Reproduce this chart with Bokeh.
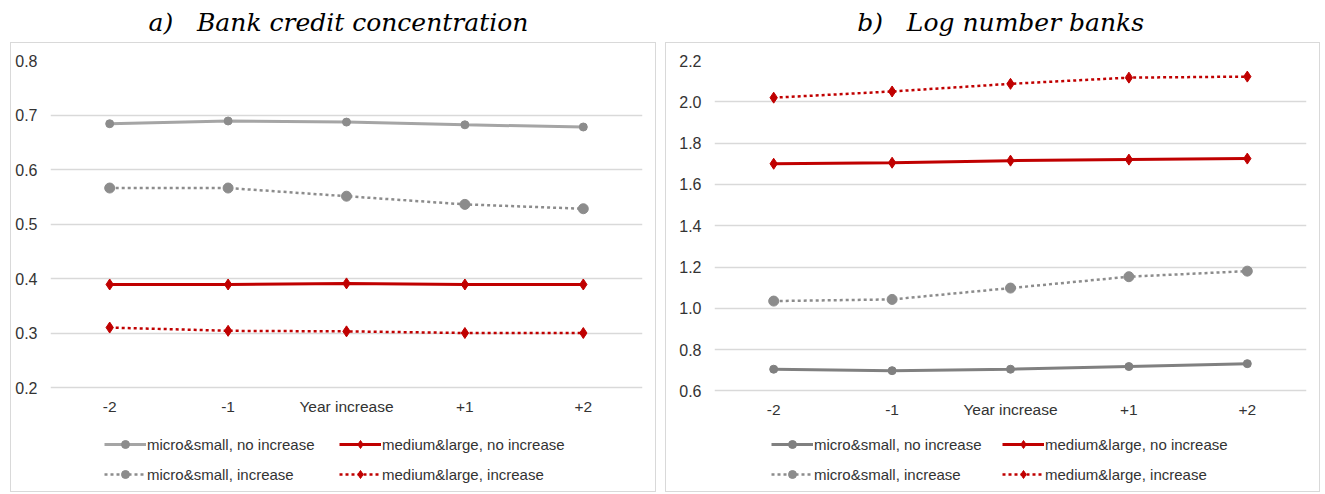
from bokeh.plotting import figure
from bokeh.models import (FactorRange, Range1d, FixedTicker, NumeralTickFormatter,
                          Legend, LegendItem, Spacer)
from bokeh.core.properties import value
from bokeh.layouts import row, column
from bokeh.embed import file_html
from bokeh.resources import INLINE

# ---------------- data ----------------
categories = ["-2", "-1", "Year increase", "+1", "+2"]

a_title = "a)\u00a0\u00a0\u00a0Bank credit concentration"
a_ms_no = [0.684, 0.689, 0.687, 0.682, 0.678]
a_ms_inc = [0.566, 0.566, 0.551, 0.536, 0.528]
a_ml_no = [0.389, 0.389, 0.391, 0.389, 0.389]
a_ml_inc = [0.310, 0.304, 0.303, 0.300, 0.300]
a_ticks = [0.2, 0.3, 0.4, 0.5, 0.6, 0.7, 0.8]

b_title = "b)\u00a0\u00a0\u00a0Log number banks"
b_ms_no = [0.705, 0.698, 0.705, 0.718, 0.732]
b_ms_inc = [1.035, 1.043, 1.098, 1.153, 1.180]
b_ml_no = [1.700, 1.705, 1.715, 1.720, 1.725]
b_ml_inc = [2.020, 2.050, 2.087, 2.117, 2.122]
b_ticks = [0.6, 0.8, 1.0, 1.2, 1.4, 1.6, 1.8, 2.0, 2.2]

labels = ["micro&small, no increase", "micro&small, increase",
          "medium&large, no increase", "medium&large, increase"]

FONT = "Liberation Sans"
TXT = "#333333"
RED = "#C00000"

CANVAS_H = 450
TOP = 17          # frame top inside canvas
TITLE_H = 42


def title_fig(text, width, x0):
    t = figure(width=width, height=TITLE_H, toolbar_location=None,
               output_backend="svg", min_border=0,
               x_range=Range1d(0, width), y_range=Range1d(0, TITLE_H),
               x_axis_location=None, y_axis_location=None)
    t.grid.visible = False
    t.outline_line_color = None
    t.text(x=[x0], y=[TITLE_H - 22], text=[text],
           text_font=value("DejaVu Serif"), text_font_style="italic",
           text_font_size="25px", text_align="left",
           text_baseline="alphabetic", text_color="#000000")
    return t


def panel(width, ms_no, ms_inc, ml_no, ml_inc, ticks, px_per_unit,
          solid_grey, solid_grey_marker, mb_left, y_standoff, leg_xa, leg_xb):
    lo, hi = ticks[0], ticks[-1]
    frame_h = CANVAS_H - TOP
    # extend the range below the last tick so the legend fits inside the frame
    lo_ext = hi - frame_h / px_per_unit
    p = figure(width=width, height=CANVAS_H, x_range=FactorRange(*categories),
               y_range=Range1d(lo_ext, hi), toolbar_location=None,
               output_backend="svg", min_border_left=mb_left, min_border_right=15,
               min_border_top=TOP, min_border_bottom=0)
    p.x_range.range_padding = 0
    p.outline_line_color = None
    p.xgrid.visible = False
    p.ygrid.grid_line_color = "#D9D9D9"
    p.ygrid.grid_line_width = 1.3
    p.yaxis.ticker = FixedTicker(ticks=ticks)
    p.yaxis.formatter = NumeralTickFormatter(format="0.0")
    p.xaxis.fixed_location = lo
    for ax in (p.xaxis, p.yaxis):
        ax.axis_line_color = None
        ax.major_tick_line_color = None
        ax.minor_tick_line_color = None
        ax.major_label_text_font = FONT
        ax.major_label_text_color = TXT
    p.yaxis.major_label_text_font_size = "16px"
    p.xaxis.major_label_text_font_size = "15.5px"
    p.yaxis.major_label_standoff = y_standoff
    p.xaxis.major_label_standoff = 4
    p.styles = {"border": "1px solid #D9D9D9"}

    r1l = p.line(categories, ms_no, line_color=solid_grey, line_width=3)
    r1m = p.scatter(categories, ms_no, marker="circle", size=8,
                    fill_color=solid_grey_marker, line_color=solid_grey_marker)
    r2l = p.line(categories, ms_inc, line_color="#8C8C8C", line_width=2.5,
                 line_dash="3 3")
    r2m = p.scatter(categories, ms_inc, marker="circle", size=10,
                    fill_color="#8C8C8C", line_color="#8C8C8C")
    r3l = p.line(categories, ml_no, line_color=RED, line_width=3)
    r3m = p.scatter(categories, ml_no, marker="diamond", size=11,
                    fill_color=RED, line_color=RED)
    r4l = p.line(categories, ml_inc, line_color=RED, line_width=2.5, line_dash="3 3")
    r4m = p.scatter(categories, ml_inc, marker="diamond", size=11,
                    fill_color=RED, line_color=RED)

    def mk_legend(items, x):
        lg = Legend(items=items, location=(x, 9), orientation="vertical",
                    glyph_width=42, glyph_height=20, label_height=20, spacing=10,
                    padding=0, margin=0, label_standoff=1,
                    label_text_font=FONT, label_text_font_size="15px",
                    label_text_color=TXT, border_line_alpha=0,
                    background_fill_alpha=0)
        p.add_layout(lg)

    mk_legend([LegendItem(label=labels[0], renderers=[r1l, r1m]),
               LegendItem(label=labels[1], renderers=[r2l, r2m])], leg_xa)
    mk_legend([LegendItem(label=labels[2], renderers=[r3l, r3m]),
               LegendItem(label=labels[3], renderers=[r4l, r4m])], leg_xb)
    return p


pa = panel(646, a_ms_no, a_ms_inc, a_ml_no, a_ml_inc, a_ticks, 545.0,
           "#A5A5A5", "#8C8C8C", 39, 7, 54, 289)
pb = panel(655, b_ms_no, b_ms_inc, b_ml_no, b_ml_inc, b_ticks, 206.5,
           "#808080", "#808080", 48, 7, 57, 288)

ta = title_fig(a_title, 648, 108)
tb = title_fig(b_title, 657, 159)

layout = row(Spacer(width=3), column(ta, pa, spacing=0),
             column(tb, pb, spacing=0), spacing=7)

open("out.html", "w").write(file_html(layout, INLINE))
